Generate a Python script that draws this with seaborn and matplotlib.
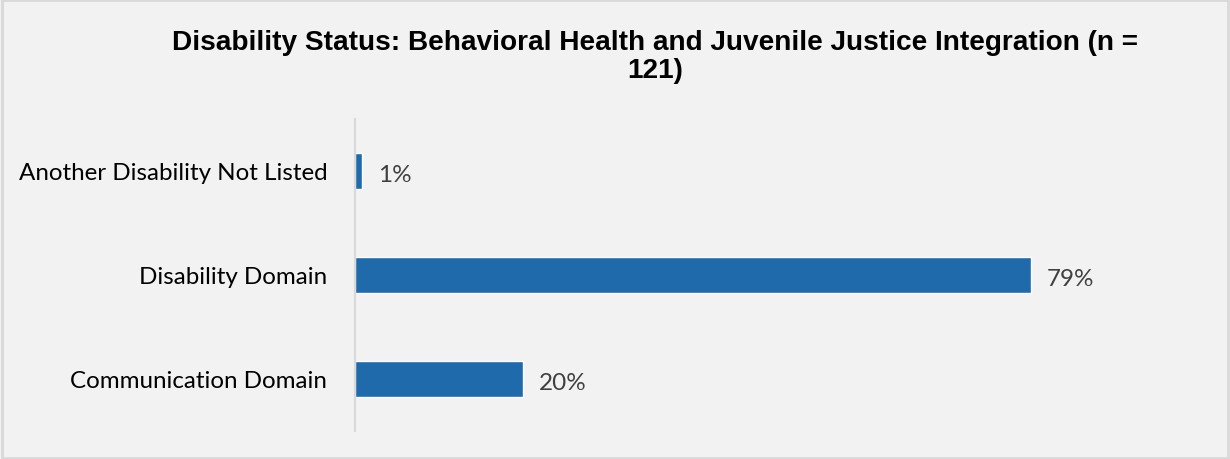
import matplotlib
matplotlib.use("Agg")
import matplotlib.pyplot as plt
import seaborn as sns
import pandas as pd
from matplotlib.patches import Rectangle

categories = ["Another Disability Not Listed", "Disability Domain", "Communication Domain"]
values = [0.8, 79, 19.6]
value_labels = ["1%", "79%", "20%"]
title = "Disability Status: Behavioral Health and Juvenile Justice Integration (n =\n121)"

df = pd.DataFrame({"category": categories, "value": values})

sns.set_theme(style="white")
plt.rcParams["font.family"] = ["Lato", "DejaVu Sans"]

bg = "#F2F2F2"
fig = plt.figure(figsize=(12.3, 4.6), dpi=100, facecolor=bg)
ax = fig.add_axes([355 / 1230, 28 / 460, (1180 - 355) / 1230, 312 / 460])
ax.set_facecolor(bg)

sns.barplot(data=df, y="category", x="value", order=categories, orient="h",
            color="#1F6AAB", width=0.35, saturation=1, ax=ax)

ax.set_xlim(0, (1180 - 355) / 8.56)
ax.set_ylim(2.5, -0.5)
ax.set_xlabel("")
ax.set_ylabel("")
ax.set_xticks([])
for s in ["top", "right", "bottom"]:
    ax.spines[s].set_visible(False)
ax.spines["left"].set_color("#D9D9D9")
ax.spines["left"].set_linewidth(1.5)
ax.tick_params(axis="y", length=0, pad=20, labelsize=17.4, labelcolor="#000000")

for i, (v, lab) in enumerate(zip(values, value_labels)):
    ax.annotate(lab, xy=(v, i), xytext=(11.5, -2.5), textcoords="offset points",
                ha="left", va="center", fontsize=17.5, color="#404040")

fig.text(655 / 1230, 1 - 57 / 460, title, ha="center", va="center",
         fontsize=20.2, fontweight="bold", family=["Liberation Sans", "DejaVu Sans"],
         color="#000000", linespacing=1.05)

fig.patches.append(Rectangle((0.002, 0.002), 0.996, 0.996, transform=fig.transFigure,
                             fill=False, edgecolor="#D9D9D9", linewidth=2))

fig.savefig("out.png", dpi=100, facecolor=bg)
